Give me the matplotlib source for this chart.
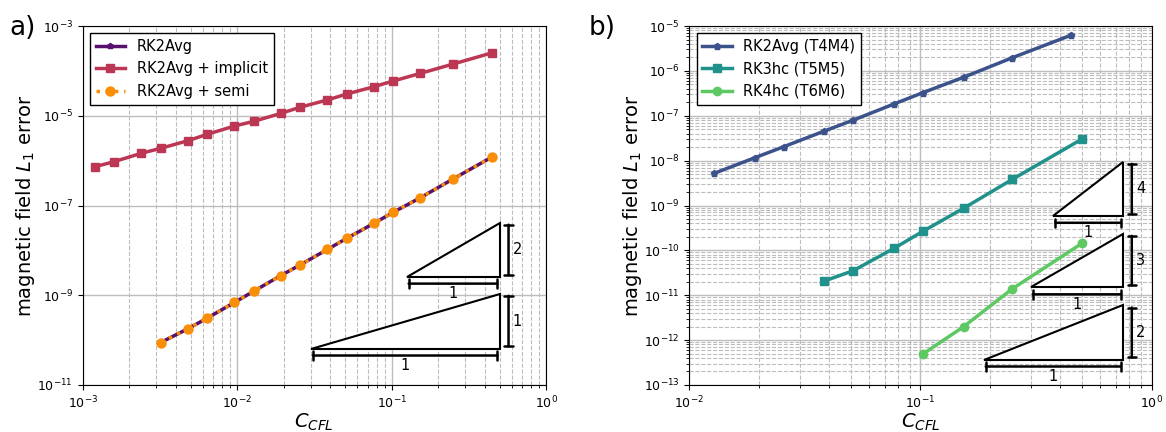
import numpy as np
import matplotlib
matplotlib.use('Agg')
import matplotlib.pyplot as plt
import matplotlib.transforms as mtransforms
from matplotlib.ticker import LogLocator, NullLocator

# panel a)
cfl_implicit = [0.0012, 0.0016, 0.0024, 0.0032, 0.0048, 0.0064, 0.0096, 0.0128, 0.0192,
                0.0256, 0.0384, 0.0512, 0.0768, 0.1024, 0.1536, 0.25, 0.45]
err_implicit = [7.3e-7, 9.5e-7, 1.46e-6, 1.88e-6, 2.78e-6, 3.86e-6, 5.9e-6, 7.5e-6, 1.13e-5,
                1.55e-5, 2.25e-5, 3.05e-5, 4.44e-5, 5.94e-5, 8.8e-5, 1.42e-4, 2.54e-4]
cfl_rk2 = [0.0032, 0.0048, 0.0064, 0.0096, 0.0128, 0.0192, 0.0256, 0.0384, 0.0512,
           0.0768, 0.1024, 0.1536, 0.25, 0.45]
err_rk2 = [8.85e-11, 1.79e-10, 3.09e-10, 6.9e-10, 1.23e-9, 2.75e-9, 4.75e-9, 1.05e-8, 1.85e-8,
           4.0e-8, 7.05e-8, 1.49e-7, 3.9e-7, 1.22e-6]
err_semi = [8.85e-11, 1.79e-10, 3.09e-10, 6.9e-10, 1.23e-9, 2.75e-9, 4.75e-9, 1.05e-8, 1.85e-8,
            4.0e-8, 7.05e-8, 1.49e-7, 3.9e-7, 1.22e-6]
yticks_a = [1e-11, 1e-9, 1e-7, 1e-5, 1e-3]

# panel b)
cfl_t4 = [0.0128, 0.0192, 0.0256, 0.0384, 0.0512, 0.0768, 0.1024, 0.1536, 0.25, 0.45]
err_t4 = [5.2e-9, 1.16e-8, 2.04e-8, 4.57e-8, 8.0e-8, 1.83e-7, 3.27e-7, 7.2e-7, 1.97e-6, 6.3e-6]
cfl_t5 = [0.0384, 0.0512, 0.0768, 0.1024, 0.1536, 0.25, 0.5]
err_t5 = [2.08e-11, 3.53e-11, 1.11e-10, 2.66e-10, 8.67e-10, 3.84e-9, 3.03e-8]
cfl_t6 = [0.1024, 0.1536, 0.25, 0.5]
err_t6 = [4.9e-13, 1.99e-12, 1.4e-11, 1.44e-10]

# slope triangles: (x0, x1, y0, order)
tri_a = [(0.125, 0.5, 2.6e-9, 2), (0.03, 0.5, 6.5e-11, 1)]
tri_b = [(0.375, 0.75, 5.9e-10, 4), (0.3, 0.75, 1.5e-11, 3), (0.1875, 0.75, 3.7e-13, 2)]


def slope_triangle(fig, ax, x0, x1, y0, order):
    y1 = y0 * (x1 / x0) ** order
    ax.fill([x0, x1, x1, x0], [y0, y0, y1, y0], facecolor='white', edgecolor='black',
            lw=1.5, zorder=4)
    below = mtransforms.offset_copy(ax.transData, fig=fig, x=0, y=-7, units='dots')
    right = mtransforms.offset_copy(ax.transData, fig=fig, x=9, y=0, units='dots')
    bar = dict(arrowstyle='|-|, widthA=0.3, widthB=0.3', lw=1.8, color='black',
               shrinkA=1.5, shrinkB=1.5)
    ax.annotate('', xy=(x1, y0), xycoords=below, xytext=(x0, y0), textcoords=below,
                arrowprops=bar, zorder=5)
    ax.annotate('', xy=(x1, y1), xycoords=right, xytext=(x1, y0), textcoords=right,
                arrowprops=bar, zorder=5)
    ax.annotate('1', xy=(np.sqrt(x0 * x1), y0), xytext=(0, -17), textcoords='offset pixels',
                ha='center', va='center', fontsize=10.5, zorder=5)
    ax.annotate(str(order), xy=(x1, np.sqrt(y0 * y1)), xytext=(18, 0),
                textcoords='offset pixels', ha='center', va='center', fontsize=10.5, zorder=5)


def style_axes(ax):
    ax.set_xscale('log')
    ax.set_yscale('log')
    ax.grid(which='major', color='#bdbdbd', lw=1.0, ls='-')
    ax.grid(which='minor', color='#bdbdbd', lw=0.8, ls='--')
    ax.set_axisbelow(True)
    ax.tick_params(labelsize=9)
    ax.set_xlabel('$C_{CFL}$', fontsize=14, labelpad=0)
    ax.set_ylabel('magnetic field $L_1$ error', fontsize=14, labelpad=0)


def start():
    fig = plt.figure(figsize=(11.66, 4.32), dpi=100)
    ax1 = fig.add_axes([0.0709, 0.1088, 0.3974, 0.831])
    ax2 = fig.add_axes([0.5912, 0.1088, 0.3965, 0.831])

    inferno = plt.get_cmap('inferno')
    viridis = plt.get_cmap('viridis')

    style_axes(ax1)
    ax1.plot(cfl_rk2, err_rk2, '-', marker='p', ms=4, lw=2.5, color=inferno(0.25), label='RK2Avg')
    ax1.plot(cfl_implicit, err_implicit, '-', marker='s', ms=6, lw=2.5, color=inferno(0.5),
             label='RK2Avg + implicit')
    ax1.plot(cfl_rk2, err_semi, ':', marker='o', ms=6.5, lw=2.5, color=inferno(0.75),
             label='RK2Avg + semi')
    ax1.set_xlim(1e-3, 1e0)
    ax1.set_ylim(1e-11, 1e-3)
    ax1.set_yticks(yticks_a)
    ax1.yaxis.set_minor_locator(NullLocator())
    ax1.legend(loc='upper left', fontsize=10.5, fancybox=False, edgecolor='black', framealpha=1)
    for t in tri_a:
        slope_triangle(fig, ax1, *t)

    style_axes(ax2)
    ax2.plot(cfl_t4, err_t4, '-', marker='p', ms=5, lw=2.5, color=viridis(0.25),
             label='RK2Avg (T4M4)')
    ax2.plot(cfl_t5, err_t5, '-', marker='s', ms=6, lw=2.5, color=viridis(0.5),
             label='RK3hc (T5M5)')
    ax2.plot(cfl_t6, err_t6, '-', marker='o', ms=6, lw=2.5, color=viridis(0.75),
             label='RK4hc (T6M6)')
    ax2.set_xlim(1e-2, 1e0)
    ax2.set_ylim(1e-13, 1e-5)
    ax2.yaxis.set_major_locator(LogLocator(base=10, numticks=20))
    ax2.yaxis.set_minor_locator(LogLocator(base=10, subs=np.arange(2, 10), numticks=100))
    ax2.legend(loc='upper left', fontsize=10.5, fancybox=False, edgecolor='black', framealpha=1)
    for t in tri_b:
        slope_triangle(fig, ax2, *t)

    fig.text(0.008, 0.965, 'a)', fontsize=19, va='top')
    fig.text(0.505, 0.965, 'b)', fontsize=19, va='top')

    fig.savefig('out.png', dpi=100)


if __name__ == '__main__':
    start()
